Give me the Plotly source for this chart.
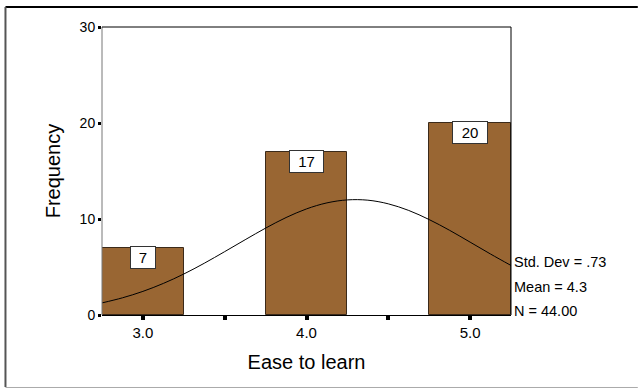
import plotly.graph_objects as go

# Data
categories = [3.0, 4.0, 5.0]
frequencies = [7, 17, 20]
curve_x = [2.75, 2.875, 3.0, 3.125, 3.25, 3.375, 3.5, 3.625, 3.75, 3.875, 4.0,
           4.125, 4.25, 4.375, 4.5, 4.625, 4.75, 4.875, 5.0, 5.125, 5.25]
curve_y = [1.26, 1.79, 2.46, 3.29, 4.27, 5.39, 6.60, 7.84, 9.05, 10.15, 11.05,
           11.68, 11.99, 11.96, 11.58, 10.89, 9.94, 8.82, 7.59, 6.35, 5.16]
x_tickvals = [3.0, 3.5, 4.0, 4.5, 5.0]
x_ticktext = ["3.0", "", "4.0", "", "5.0"]
y_tickvals = [0, 10, 20, 30]
stats_text = ["Std. Dev = .73", "Mean = 4.3", "N = 44.00"]
stats_y = [5.5, 2.9, 0.45]
label_widths = [22, 31, 32]

FONT = "Liberation Sans, Arial, sans-serif"

fig = go.Figure()
fig.add_trace(go.Bar(
    x=categories, y=frequencies, width=0.5,
    marker=dict(color="#996633", line=dict(color="#3b2a1a", width=1)),
    hoverinfo="skip",
))
fig.add_trace(go.Scatter(
    x=curve_x, y=curve_y, mode="lines",
    line=dict(color="black", width=1, shape="spline"),
    hoverinfo="skip",
))

annotations = []
for c, f, w in zip(categories, frequencies, label_widths):
    annotations.append(dict(
        x=c, y=f, xref="x", yref="y", text=str(f), showarrow=False,
        yanchor="top", xanchor="center", yshift=2,
        width=w, height=19, align="center", valign="middle",
        font=dict(family=FONT, size=15, color="black"),
        bgcolor="white", bordercolor="#333333", borderwidth=1, borderpad=1,
    ))
for t, yy in zip(stats_text, stats_y):
    annotations.append(dict(
        x=1.0, y=yy, xref="paper", yref="y", text=t, showarrow=False,
        xanchor="left", yanchor="middle", xshift=1,
        font=dict(family=FONT, size=14.5, color="black"),
    ))

shapes = [
    # outer frame
    dict(type="line", xref="paper", yref="paper", x0=-0.236, x1=1.31, y0=1.0694, y1=1.0694,
         line=dict(color="black", width=2)),
    dict(type="line", xref="paper", yref="paper", x0=-0.236, x1=-0.236, y0=1.0694, y1=-0.25,
         line=dict(color="#555555", width=2)),
    dict(type="line", xref="paper", yref="paper", x0=-0.236, x1=1.31, y0=-0.2517, y1=-0.2517,
         line=dict(color="#aaaaaa", width=1)),
    # plot frame
    dict(type="line", xref="paper", yref="paper", x0=0, x1=0, y0=0, y1=1,
         line=dict(color="#777777", width=1)),
    dict(type="line", xref="paper", yref="paper", x0=1, x1=1, y0=0, y1=1,
         line=dict(color="black", width=1)),
    dict(type="line", xref="paper", yref="paper", x0=0, x1=1, y0=1, y1=1,
         line=dict(color="black", width=1)),
]

fig.update_layout(
    width=639, height=388,
    margin=dict(l=102, r=128, t=27, b=73),
    paper_bgcolor="white", plot_bgcolor="white",
    showlegend=False,
    bargap=0,
    font=dict(family=FONT, color="black"),
    annotations=annotations,
    shapes=shapes,
    xaxis=dict(
        range=[2.75, 5.25], tickvals=x_tickvals, ticktext=x_ticktext,
        ticks="outside", ticklen=4, tickwidth=4, tickcolor="black",
        showgrid=False, zeroline=False, showline=True, linecolor="black", linewidth=1,
        tickfont=dict(family=FONT, size=15),
        title=dict(text="Ease to learn", font=dict(family=FONT, size=20), standoff=14),
    ),
    yaxis=dict(
        range=[0, 30], tickvals=y_tickvals,
        ticks="outside", ticklen=3, tickwidth=3, tickcolor="black",
        showgrid=False, zeroline=False, showline=False,
        tickfont=dict(family=FONT, size=14),
        title=dict(text="Frequency", font=dict(family=FONT, size=20), standoff=13),
    ),
)

fig.write_html("out.html", config={"displayModeBar": False},
               post_script="document.body.style.margin='0';")
